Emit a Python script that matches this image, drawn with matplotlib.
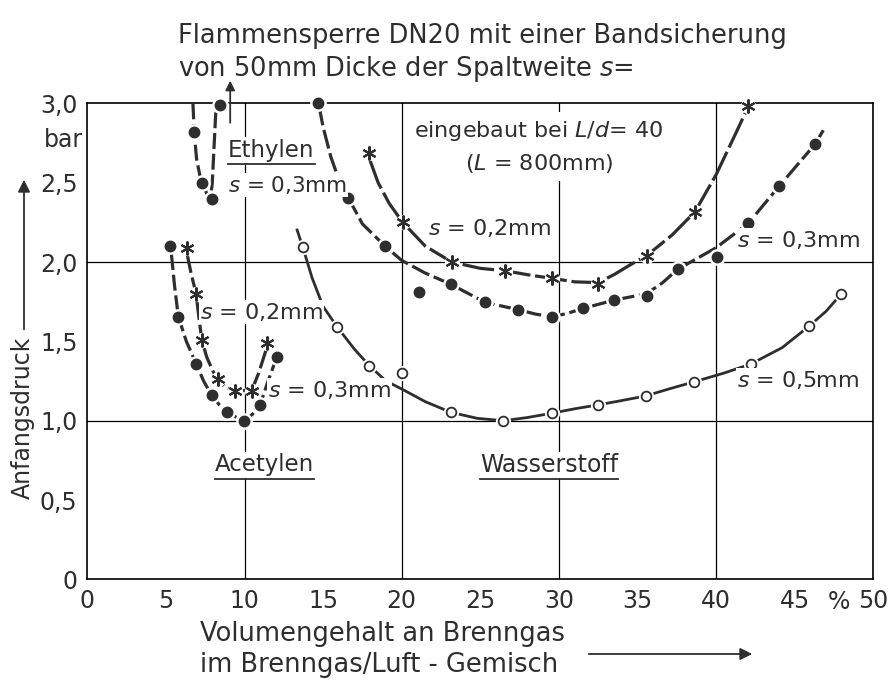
import numpy as np
import matplotlib
matplotlib.use('Agg')
import matplotlib.pyplot as plt
from matplotlib.lines import Line2D
from matplotlib.patches import FancyArrowPatch

plt.rcParams['font.family'] = ['DejaVu Sans']
plt.rcParams['mathtext.fontset'] = 'dejavusans'

# --- data (x: Vol-% Brenngas, y: Anfangsdruck in bar) ---
# Ethylen, s = 0,3mm
eth03_x = [6.80, 7.32, 7.91, 8.44]
eth03_y = [2.82, 2.50, 2.40, 2.99]
eth03_cx = [6.72, 6.80, 6.95, 7.15, 7.32, 7.60, 7.85, 7.95, 8.05, 8.15, 8.20]
eth03_cy = [3.00, 2.82, 2.65, 2.55, 2.50, 2.43, 2.41, 2.50, 2.70, 2.90, 2.98]

# Acetylen, s = 0,3mm (dots)
ace03_x = [5.27, 5.79, 6.92, 7.91, 8.87, 9.99, 10.99, 12.05]
ace03_y = [2.10, 1.655, 1.36, 1.16, 1.057, 1.00, 1.10, 1.40]
ace03_cx = [5.35, 5.55, 5.79, 6.30, 6.92, 7.40, 7.91, 8.40, 8.87, 9.50, 9.99, 10.50, 10.99, 11.50, 12.05]
ace03_cy = [2.05, 1.85, 1.655, 1.50, 1.36, 1.25, 1.16, 1.10, 1.057, 1.02, 1.00, 1.04, 1.10, 1.25, 1.40]

# Acetylen, s = 0,2mm (stars)
ace02_x = [6.32, 6.92, 7.28, 8.30, 9.40, 10.46, 11.45]
ace02_y = [2.09, 1.80, 1.51, 1.26, 1.19, 1.19, 1.49]
ace02_cx = [6.35, 6.60, 6.92, 7.10, 7.28, 7.60, 8.00, 8.30, 8.80, 9.40, 10.00, 10.46, 10.90, 11.45]
ace02_cy = [2.05, 1.93, 1.80, 1.65, 1.51, 1.40, 1.31, 1.26, 1.21, 1.19, 1.19, 1.19, 1.30, 1.47]

# Wasserstoff, s = 0,3mm (dots)
h03_x = [14.70, 16.60, 18.94, 21.12, 23.12, 25.30, 27.38, 29.54, 31.55, 33.52, 35.58, 37.56, 40.04, 42.05, 44.02, 46.29]
h03_y = [3.00, 2.405, 2.10, 1.81, 1.86, 1.746, 1.70, 1.655, 1.708, 1.76, 1.786, 1.954, 2.033, 2.244, 2.479, 2.742]
h03_cx = [14.75, 15.0, 15.5, 16.0, 16.6, 17.5, 18.94, 20.0, 21.5, 23.12, 25.30, 27.38, 28.5, 29.54,
          30.5, 31.55, 33.52, 35.58, 36.6, 37.56, 40.0, 42.05, 44.02, 46.29, 46.82]
h03_cy = [2.98, 2.85, 2.66, 2.52, 2.405, 2.24, 2.10, 2.01, 1.93, 1.86, 1.746, 1.70, 1.672, 1.655,
          1.675, 1.708, 1.76, 1.80, 1.87, 1.954, 2.09, 2.244, 2.479, 2.742, 2.83]

# Wasserstoff, s = 0,2mm (stars)
h02_x = [17.94, 20.06, 23.18, 26.57, 29.54, 32.50, 35.58, 38.66, 42.05]
h02_y = [2.685, 2.25, 2.00, 1.945, 1.897, 1.86, 2.04, 2.317, 2.98]
h02_cx = [17.95, 18.5, 19.2, 20.06, 21.5, 23.18, 25.0, 26.57, 28.0, 29.54, 31.0, 32.5,
          33.5, 34.5, 35.58, 37.2, 38.66, 40.0, 41.2, 42.05]
h02_cy = [2.65, 2.50, 2.37, 2.25, 2.10, 2.00, 1.96, 1.945, 1.92, 1.897, 1.875, 1.87,
          1.92, 1.98, 2.04, 2.17, 2.317, 2.55, 2.80, 2.98]

# Wasserstoff, s = 0,5mm (open circles)
h05_x = [13.70, 15.90, 17.94, 20.04, 23.12, 26.47, 29.54, 32.51, 35.52, 38.60, 42.20, 45.93, 47.95]
h05_y = [2.096, 1.59, 1.347, 1.30, 1.053, 1.00, 1.047, 1.10, 1.156, 1.245, 1.357, 1.597, 1.797]
h05_cx = [13.32, 13.70, 14.3, 15.0, 15.90, 17.0, 17.94, 19.0, 20.0, 21.5, 23.12, 24.8, 26.47,
          28.0, 29.54, 31.0, 32.51, 34.0, 35.52, 37.0, 38.6, 40.5, 42.2, 44.2, 45.93, 47.0, 47.95]
h05_cy = [2.21, 2.096, 1.90, 1.72, 1.59, 1.45, 1.347, 1.25, 1.20, 1.12, 1.053, 1.015, 1.00,
          1.02, 1.047, 1.075, 1.10, 1.127, 1.156, 1.20, 1.245, 1.30, 1.357, 1.46, 1.597, 1.69, 1.797]

xticks = [0, 5, 10, 15, 20, 25, 30, 35, 40, 45, 50]
xticklabels = ['0', '5', '10', '15', '20', '25', '30', '35', '40', '45', '50']
yticks = [0, 0.5, 1.0, 1.5, 2.0, 2.5, 3.0]
yticklabels = ['0', '0,5', '1,0', '1,5', '2,0', '2,5', '3,0']

ink = '#2e2e2e'
fs = 16
fs_big = 18.5

fig = plt.figure(figsize=(8.92, 6.83), dpi=100)
ax = fig.add_axes([87.3 / 892, 1 - 579.4 / 683, (873.3 - 87.3) / 892, (579.4 - 103.3) / 683])
ax.set_xlim(0, 50)
ax.set_ylim(0, 3.0)

# grid
for gx in [10, 20, 30, 40]:
    ax.axvline(gx, color='k', lw=0.9, zorder=1)
for gy in [1.0, 2.0]:
    ax.axhline(gy, color='k', lw=0.9, zorder=1)
for sp in ax.spines.values():
    sp.set_linewidth(1.2)

ax.set_xticks(xticks)
ax.set_xticklabels(xticklabels, fontsize=17, color=ink)
ax.set_yticks(yticks)
ax.set_yticklabels(yticklabels, fontsize=17, color=ink)
ax.tick_params(axis='both', direction='in', length=0, pad=7)
ax.set_xticks([5, 15, 25, 35, 45], minor=True)
ax.set_yticks([0.5, 1.5, 2.5], minor=True)
ax.tick_params(which='minor', direction='in', length=11, width=1.0)


def curve(cx, cy, dashes, lw=2.3):
    ln, = ax.plot(cx, cy, color=ink, lw=lw, zorder=3, solid_capstyle='butt')
    if dashes:
        ln.set_dashes(dashes)
    ln.set_clip_on(False)


def marks(mx, my, kind):
    if kind == 'dot':
        ax.plot(mx, my, 'o', ms=11, color='white', zorder=4, clip_on=False)
        ax.plot(mx, my, 'o', ms=7.5, color=ink, zorder=5, clip_on=False)
    elif kind == 'open':
        ax.plot(mx, my, 'o', ms=10, color='white', zorder=4, clip_on=False)
        ax.plot(mx, my, 'o', ms=7, mfc='white', mec=ink, mew=1.3, zorder=5, clip_on=False)
    else:
        ax.plot(mx, my, 'o', ms=10, color='white', zorder=4, clip_on=False)
        ax.plot(mx, my, marker=(6, 2, 0), ls='none', ms=10, mec=ink, mew=1.5, zorder=5, clip_on=False)


curve(eth03_cx, eth03_cy, (5, 1.5))
curve(ace03_cx, ace03_cy, (5, 1.5))
curve(ace02_cx, ace02_cy, (6, 1.5))
curve(h03_cx, h03_cy, (6, 1.5))
curve(h02_cx, h02_cy, (10, 1.5))
curve(h05_cx, h05_cy, None, lw=2.0)

marks(eth03_x, eth03_y, 'dot')
marks(ace03_x, ace03_y, 'dot')
marks(ace02_x, ace02_y, 'star')
marks(h03_x, h03_y, 'dot')
marks(h02_x, h02_y, 'star')
marks(h05_x, h05_y, 'open')

# arrow above Ethylen (off scale)
ax.annotate('', xy=(9.09, 3.16), xytext=(9.09, 2.86), xycoords='data',
            arrowprops=dict(arrowstyle='-|>', color=ink, lw=1.3, mutation_scale=14),
            annotation_clip=False)

white = dict(facecolor='white', edgecolor='none', pad=1.0)


def fx(px):
    return (px - 87.3) / 15.72


def fy(py):
    return (420.7 - py) / 158.7 + 1


labels = []
labels.append(ax.text(fx(228), fy(150), 'Ethylen', fontsize=16.5, va='center', ha='left', color=ink, bbox=white, zorder=6))
ax.text(fx(228), fy(185), r'$s$ = 0,3mm', fontsize=15.5, va='center', ha='left', color=ink, bbox=white, zorder=6)
ax.text(fx(539), fy(147), 'eingebaut bei $L/d$= 40\n($L$ = 800mm)', fontsize=fs, va='center', ha='center',
        multialignment='center', linespacing=1.45, color=ink,
        bbox=dict(facecolor='white', edgecolor='none', pad=5), zorder=6)
ax.text(fx(428), fy(228), r'$s$ = 0,2mm', fontsize=fs, va='center', ha='left', color=ink, bbox=white, zorder=6)
ax.text(fx(737), fy(240), r'$s$ = 0,3mm', fontsize=fs, va='center', ha='left', color=ink, bbox=white, zorder=6)
ax.text(fx(737), fy(380), r'$s$ = 0,5mm', fontsize=fs, va='center', ha='left', color=ink, bbox=white, zorder=6)
ax.text(fx(200), fy(312), r'$s$ = 0,2mm', fontsize=fs, va='center', ha='left', color=ink, bbox=white, zorder=6)
ax.text(fx(268), fy(390), r'$s$ = 0,3mm', fontsize=fs, va='center', ha='left', color=ink, bbox=white, zorder=6)
labels.append(ax.text(fx(215), fy(465), 'Acetylen', fontsize=16.5, va='center', ha='left', color=ink, bbox=white, zorder=6))
labels.append(ax.text(fx(480), fy(465), 'Wasserstoff', fontsize=17, va='center', ha='left', color=ink, bbox=white, zorder=6))

# percent sign between 45 and 50
ax.text(47.8, -0.065, '%', fontsize=17, va='top', ha='center', color=ink, clip_on=False)

# title
fig.text(178 / 892, 1 - 36 / 683, 'Flammensperre DN20 mit einer Bandsicherung', fontsize=fs_big, va='center', ha='left', color=ink)
fig.text(178 / 892, 1 - 69 / 683, r'von 50mm Dicke der Spaltweite $s$=', fontsize=fs_big, va='center', ha='left', color=ink)
fig.text(44 / 892, 1 - 140 / 683, 'bar', fontsize=17, va='center', ha='left', color=ink)

# axis labels
fig.text(23 / 892, 1 - 418 / 683, 'Anfangsdruck', fontsize=17, rotation=90, va='center', ha='center', color=ink)
fig.add_artist(FancyArrowPatch((24 / 892, 1 - 332 / 683), (24 / 892, 1 - 177 / 683),
                               transform=fig.transFigure, arrowstyle='-|>', mutation_scale=18,
                               color=ink, lw=1.3))
fig.text(200 / 892, 1 - 634 / 683, 'Volumengehalt an Brenngas', fontsize=18.5, va='center', ha='left', color=ink)
fig.text(200 / 892, 1 - 665 / 683, 'im Brenngas/Luft - Gemisch', fontsize=18.5, va='center', ha='left', color=ink)
fig.add_artist(FancyArrowPatch((586 / 892, 1 - 654 / 683), (755 / 892, 1 - 654 / 683),
                               transform=fig.transFigure, arrowstyle='-|>', mutation_scale=18,
                               color=ink, lw=1.3))

# underline the gas names
fig.canvas.draw()
r = fig.canvas.get_renderer()
for t in labels:
    bb = t.get_window_extent(renderer=r)
    yline = bb.y0 - 2
    fig.add_artist(Line2D([bb.x0, bb.x1], [yline, yline], transform=None, color=ink, lw=1.3))

fig.savefig('out.png', dpi=100)
